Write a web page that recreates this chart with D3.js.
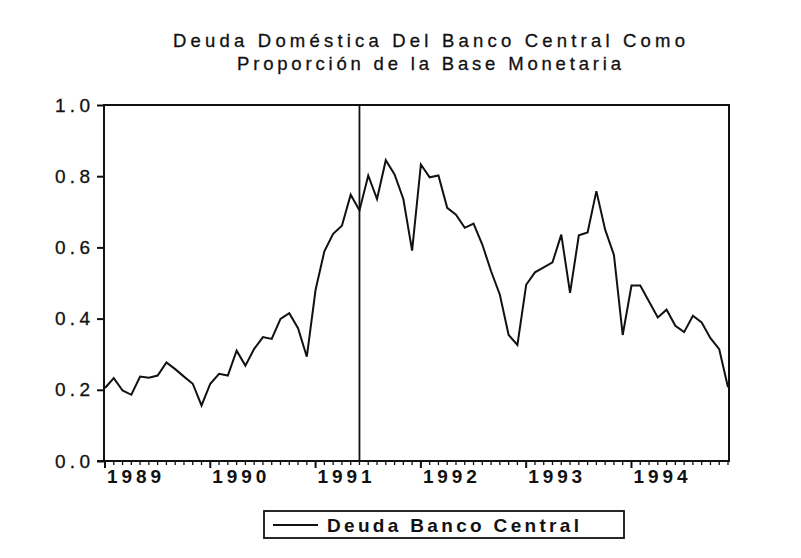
<!DOCTYPE html>
<html lang="es">
<head>
    <meta charset="UTF-8">
    <title>Deuda Doméstica Del Banco Central</title>
    <script src="https://cdnjs.cloudflare.com/ajax/libs/d3/7.8.5/d3.min.js"></script>
    <style>
        body {
            margin: 0;
            padding: 0;
            background-color: #fff;
        }
        svg text {
            font-family: "Liberation Sans", Arial, sans-serif;
            fill: #111;
        }
    </style>
</head>
<body>
    <div id="chart"></div>

    <script>
        // monthly series, Jan 1989 - Dec 1994
        const years = ["1989", "1990", "1991", "1992", "1993", "1994"];
        const yTicks = [0.0, 0.2, 0.4, 0.6, 0.8, 1.0];
        const deuda = [
            0.205, 0.233, 0.198, 0.186, 0.237, 0.234, 0.240, 0.277, 0.258, 0.237, 0.217, 0.156,
            0.217, 0.245, 0.240, 0.310, 0.268, 0.315, 0.348, 0.343, 0.399, 0.415, 0.373, 0.293,
            0.481, 0.589, 0.638, 0.661, 0.748, 0.704, 0.802, 0.736, 0.845, 0.805, 0.736, 0.591,
            0.833, 0.797, 0.802, 0.711, 0.692, 0.655, 0.667, 0.608, 0.533, 0.467, 0.354, 0.326,
            0.495, 0.530, 0.544, 0.558, 0.636, 0.472, 0.634, 0.642, 0.758, 0.650, 0.579, 0.354,
            0.493, 0.493, 0.448, 0.403, 0.425, 0.380, 0.362, 0.408, 0.389, 0.345, 0.314, 0.207
        ];
        const markerMonth = 29; // vertical reference line (Jun 1991)
        const title = ["Deuda Doméstica Del Banco Central Como", "Proporción de la Base Monetaria"];
        const legendLabel = "Deuda Banco Central";

        const width = 801;
        const height = 558;
        const margin = { top: 105, right: 72, bottom: 97, left: 104 };

        const svg = d3.select("#chart")
            .append("svg")
            .attr("width", width)
            .attr("height", height);

        const x = d3.scaleLinear()
            .domain([0, deuda.length - 1])
            .range([margin.left + 1, width - margin.right - 1]);

        const y = d3.scaleLinear()
            .domain([0, 1])
            .range([height - margin.bottom, margin.top]);

        // title
        svg.append("g")
            .selectAll("text")
            .data(title)
            .enter()
            .append("text")
            .attr("x", 429)
            .attr("y", (d, i) => 47 + i * 23)
            .attr("text-anchor", "middle")
            .attr("textLength", (d, i) => i === 0 ? 512 : 384)
            .attr("lengthAdjust", "spacing")
            .style("font-size", "18.5px")
            .style("stroke", "#111")
            .style("stroke-width", 0.3)
            .text(d => d);

        // y axis
        const yAxis = svg.append("g")
            .attr("transform", `translate(${margin.left},0)`)
            .call(d3.axisLeft(y).tickValues(yTicks).tickFormat(d3.format(".1f")).tickSize(7).tickPadding(7));
        yAxis.select(".domain").remove();
        yAxis.selectAll(".tick line").attr("stroke", "#111").attr("stroke-width", 2);
        yAxis.selectAll(".tick text")
            .attr("textLength", 35)
            .attr("lengthAdjust", "spacing")
            .style("font-size", "19px")
            .style("stroke", "#111")
            .style("stroke-width", 0.3);

        // x axis: monthly minor ticks, yearly major ticks
        const months = d3.range(0, deuda.length);
        svg.append("g")
            .selectAll("line")
            .data(months)
            .enter()
            .append("line")
            .attr("x1", d => x(d))
            .attr("x2", d => x(d))
            .attr("y1", y(0))
            .attr("y2", d => y(0) + (d % 12 === 0 ? 7 : 4))
            .attr("stroke", "#111")
            .attr("stroke-width", d => d % 12 === 0 ? 2 : 1.3);

        svg.append("g")
            .selectAll("text")
            .data(years)
            .enter()
            .append("text")
            .attr("x", (d, i) => x(i * 12) + 2)
            .attr("y", 483)
            .attr("textLength", 54)
            .attr("lengthAdjust", "spacing")
            .style("font-size", "19px")
            .style("font-weight", "bold")
            .text(d => d);

        // frame
        svg.append("rect")
            .attr("x", margin.left)
            .attr("y", margin.top)
            .attr("width", width - margin.left - margin.right)
            .attr("height", height - margin.top - margin.bottom)
            .attr("fill", "none")
            .attr("stroke", "#111")
            .attr("stroke-width", 2);

        svg.append("line")
            .attr("x1", margin.left - 7)
            .attr("x2", margin.left)
            .attr("y1", y(0))
            .attr("y2", y(0))
            .attr("stroke", "#111")
            .attr("stroke-width", 2);

        // vertical reference line
        svg.append("line")
            .attr("x1", x(markerMonth))
            .attr("x2", x(markerMonth))
            .attr("y1", y(1))
            .attr("y2", y(0))
            .attr("stroke", "#111")
            .attr("stroke-width", 1.8);

        // series line
        const line = d3.line()
            .x((d, i) => x(i))
            .y(d => y(d));

        svg.append("path")
            .datum(deuda)
            .attr("d", line)
            .attr("fill", "none")
            .attr("stroke", "#111")
            .attr("stroke-width", 2)
            .attr("stroke-linejoin", "miter");

        // legend
        const legend = svg.append("g");
        legend.append("rect")
            .attr("x", 264)
            .attr("y", 511)
            .attr("width", 360)
            .attr("height", 27)
            .attr("fill", "none")
            .attr("stroke", "#111")
            .attr("stroke-width", 1.8);
        legend.append("line")
            .attr("x1", 273)
            .attr("x2", 318)
            .attr("y1", 525)
            .attr("y2", 525)
            .attr("stroke", "#111")
            .attr("stroke-width", 1.8);
        legend.append("text")
            .attr("x", 327)
            .attr("y", 532)
            .attr("textLength", 252)
            .attr("lengthAdjust", "spacing")
            .style("font-size", "19px")
            .style("font-weight", "bold")
            .text(legendLabel);
    </script>
</body>
</html>
